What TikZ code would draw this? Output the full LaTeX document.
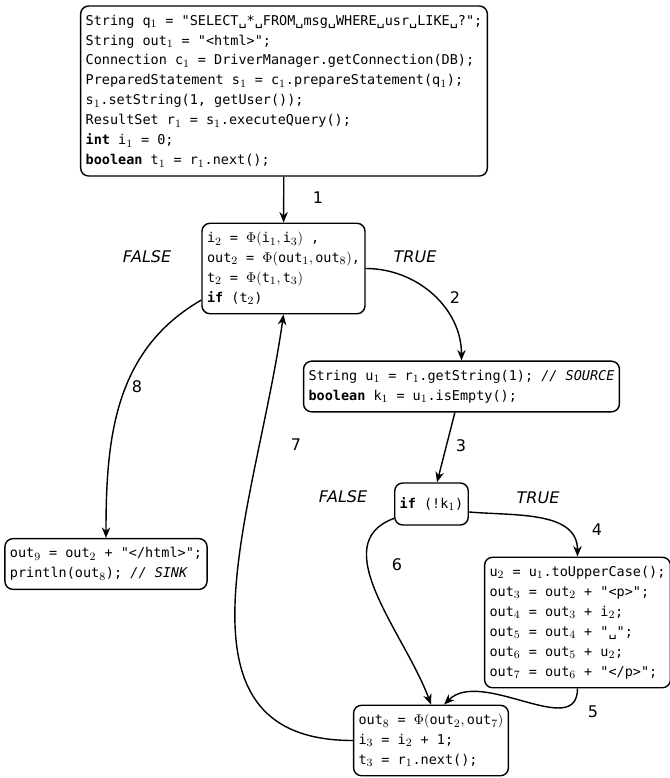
\documentclass[tikz,border=0pt]{standalone}
\usepackage{fontspec}
\setmonofont{DejaVu Sans Mono}
\newfontfamily\lblfont{DejaVu Sans}
\DeclareMathSizes{9.6}{9.6}{8}{6}
\usetikzlibrary{arrows.meta}

\tikzset{
	code/.style={draw, line width=1pt, rounded corners=0.2cm, align=left,
		inner xsep=0.125cm, inner ysep=0.22cm,
		font=\ttfamily\fontsize{9.6}{14.2}\selectfont},
	flow/.style={line width=1pt, -{Stealth[length=7.5pt,width=6pt]}},
	num/.style={font=\lblfont\fontsize{11.4}{13}\selectfont},
	branch/.style={font=\lblfont\itshape\fontsize{11.4}{13}\selectfont}
}

\begin{document}
\begin{tikzpicture}
\useasboundingbox (0,0) rectangle (16.75,-19.45);

% basic blocks
\node[code] (init) at (7.1,-2.275) {String q$_1$ = "SELECT\textvisiblespace*\textvisiblespace FROM\textvisiblespace msg\textvisiblespace WHERE\textvisiblespace usr\textvisiblespace LIKE\textvisiblespace?";\\
String out$_1$ = "<html>";\\
Connection c$_1$ = DriverManager.getConnection(DB);\\
PreparedStatement s$_1$ = c$_1$.prepareStatement(q$_1$);\\
s$_1$.setString(1, getUser());\\
ResultSet r$_1$ = s$_1$.executeQuery();\\
\textbf{int} i$_1$ = 0;\\
\textbf{boolean} t$_1$ = r$_1$.next();};
\node[code] (loop) at (7.0875,-6.7125) {i$_2$ = $\Phi(\texttt{i}_1,\texttt{i}_3)$ ,\\
out$_2$ = $\Phi(\texttt{out}_1,\texttt{out}_8)$,\\
t$_2$ = $\Phi(\texttt{t}_1,\texttt{t}_3)$\\
\textbf{if} (t$_2$)};
\node[code] (source) at (11.5375,-9.6625) {String u$_1$ = r$_1$.getString(1); \textit{// SOURCE}\\
\textbf{boolean} k$_1$ = u$_1$.isEmpty();};
\node[code, minimum height=1.05cm] (test) at (10.7875,-12.6) {\textbf{if} (!k$_1$)};
\node[code] (sink) at (2.65,-14.1) {out$_9$ = out$_2$ + "</html>";\\
println(out$_8$); \textit{// SINK}};
\node[code] (body) at (14.4375,-15.5625) {u$_2$ = u$_1$.toUpperCase();\\
out$_3$ = out$_2$ + "<p>";\\
out$_4$ = out$_3$ + i$_2$;\\
out$_5$ = out$_4$ + "\textvisiblespace";\\
out$_6$ = out$_5$ + u$_2$;\\
out$_7$ = out$_6$ + "</p>";};
\node[code] (join) at (10.775,-18.5125) {out$_8$ = $\Phi(\texttt{out}_2,\texttt{out}_7)$\\
i$_3$ = i$_2$ + 1;\\
t$_3$ = r$_1$.next();};

% edges
\draw[flow] (init) -- (loop);
\draw[flow] (loop.east) to[out=0,in=90] (source.north);
\draw[flow] (source) -- (test);
\draw[flow] (test.-12) to[out=-5,in=90] (body.north);
\draw[flow] (body.south) to[out=-90,in=45] (join.70);
\draw[flow] (test.201) to[out=200,in=110] (join.north);
\draw[flow] (join.west) to[out=180,in=-98,looseness=1.15] (loop.south);
\draw[flow] (loop.201) to[out=210,in=90] (sink.north);

% labels
\foreach \n/\x/\y in {1/7.95/-4.95, 2/11.375/-7.45, 3/11.525/-11.15, 4/14.925/-13.25,
	5/14.825/-17.8, 6/9.925/-14.125, 7/7.4/-11.125, 8/3.425/-9.675}
	\node[num] (e\n) at (\x,\y) {\n};
\node[branch] (false1) at (3.675,-6.425) {FALSE};
\node[branch] (true1) at (10.375,-6.425) {TRUE};
\node[branch] (false2) at (8.575,-12.425) {FALSE};
\node[branch] (true2) at (13.45,-12.45) {TRUE};
\end{tikzpicture}
\end{document}
